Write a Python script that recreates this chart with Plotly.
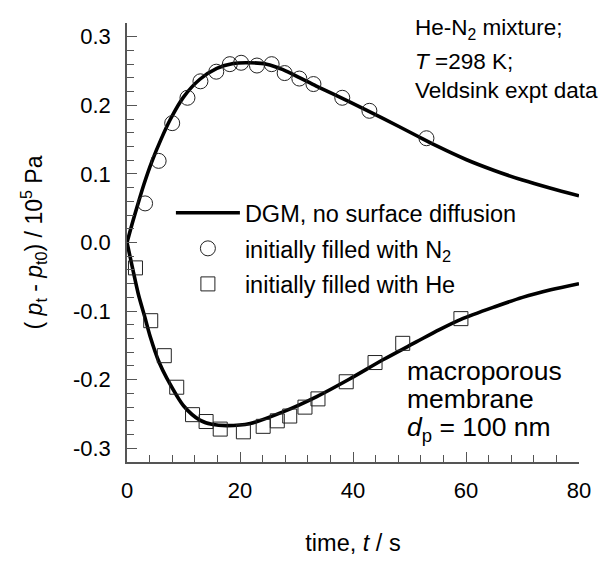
import plotly.graph_objects as go

# --- experimental data (Veldsink) ---
t_n2 = [3.2, 5.6, 8.0, 10.7, 13.0, 15.8, 18.2, 20.2, 23.0, 25.6, 27.9, 30.5, 33.0, 38.1, 42.9, 53.0]
p_n2 = [0.057, 0.119, 0.174, 0.211, 0.235, 0.249, 0.260, 0.262, 0.258, 0.260, 0.247, 0.239, 0.231, 0.211, 0.192, 0.152]

t_he = [1.5, 4.2, 6.6, 8.8, 11.6, 14.0, 16.5, 20.6, 24.1, 26.6, 28.8, 31.5, 33.8, 38.8, 43.9, 48.8, 59.1]
p_he = [-0.037, -0.114, -0.165, -0.211, -0.251, -0.261, -0.272, -0.276, -0.268, -0.260, -0.253, -0.240, -0.228,
        -0.203, -0.175, -0.147, -0.111]

# --- DGM model curves ---
t_dgm_n2 = [0, 1, 2, 3, 4.4, 6, 7.7, 10, 12.9, 15.9, 18.8, 21.8, 24.7, 27.6, 30.6, 33.5, 39.4, 45.3, 51.2,
            55, 60, 65, 70, 75, 80]
p_dgm_n2 = [0, 0.030, 0.058, 0.085, 0.118, 0.150, 0.180, 0.212, 0.238, 0.254, 0.261, 0.262, 0.260, 0.252, 0.240,
            0.228, 0.205, 0.181, 0.156, 0.140, 0.121, 0.105, 0.091, 0.079, 0.068]

t_dgm_he = [0, 1, 2, 3.2, 4.1, 5.7, 7.06, 10, 12.9, 15, 17.6, 21.8, 27.6, 33.5, 39.4, 45.3, 51.2, 55.3, 59.1,
            65, 70, 75, 80]
p_dgm_he = [0, -0.038, -0.075, -0.110, -0.137, -0.175, -0.198, -0.238, -0.259, -0.265, -0.267, -0.264, -0.247,
            -0.225, -0.199, -0.171, -0.145, -0.127, -0.112, -0.094, -0.080, -0.069, -0.060]

# --- tick labels ---
y_tick_vals = [-0.3, -0.2, -0.1, 0.0, 0.1, 0.2, 0.3]
y_tick_text = ["-0.3", "-0.2", "-0.1", "0.0", "0.1", "0.2", "0.3"]
x_tick_vals = [0, 20, 40, 60, 80]
x_tick_text = ["0", "20", "40", "60", "80"]

FONT = "Liberation Sans, Arial, sans-serif"
AX = "#555555"

fig = go.Figure()

fig.add_trace(go.Scatter(
    x=t_dgm_n2, y=p_dgm_n2, mode="lines", line=dict(color="black", width=3.6, shape="spline", smoothing=0.8),
    name="DGM, no surface diffusion", legendrank=1, legendgroup="a"))
fig.add_trace(go.Scatter(
    x=t_dgm_he, y=p_dgm_he, mode="lines", line=dict(color="black", width=3.6, shape="spline", smoothing=0.8),
    showlegend=False, legendgroup="a"))
fig.add_trace(go.Scatter(
    x=t_n2, y=p_n2, mode="markers",
    marker=dict(symbol="circle-open", size=15, color="#222222", line=dict(width=1, color="#222222")),
    name="initially filled with N<sub>2</sub>", legendrank=2, legendgroup="b"))
fig.add_trace(go.Scatter(
    x=t_he, y=p_he, mode="markers",
    marker=dict(symbol="square-open", size=14, color="#222222", line=dict(width=1, color="#222222")),
    name="initially filled with He", legendrank=3, legendgroup="c"))

axis_common = dict(
    showline=True, linecolor=AX, linewidth=1.5, mirror=False,
    ticks="inside", tickcolor=AX, tickwidth=1.2, ticklen=10,
    showgrid=False, zeroline=False,
    tickfont=dict(family=FONT, size=22, color="black"),
)

fig.update_xaxes(
    range=[0, 80], tickmode="array", tickvals=x_tick_vals, ticktext=x_tick_text,
    minor=dict(dtick=4, tick0=0, ticks="inside", ticklen=7, tickcolor=AX, tickwidth=1.2, showgrid=False),
    title=dict(text="time, <i>t</i> / s", font=dict(family=FONT, size=23.5, color="black"), standoff=32),
    ticklabelstandoff=8,
    **axis_common)
fig.update_yaxes(
    range=[-0.32, 0.32], tickmode="array", tickvals=y_tick_vals, ticktext=y_tick_text,
    minor=dict(dtick=0.02, tick0=0, ticks="inside", ticklen=7, tickcolor=AX, tickwidth=1.2, showgrid=False),
    title=dict(text="( <i>p</i><sub>t</sub> - <i>p</i><sub>t0</sub>) / 10<sup>5</sup> Pa",
               font=dict(family=FONT, size=23, color="black"), standoff=24),
    ticklabelstandoff=10,
    **axis_common)

annotations = [
    ("He-N<sub>2</sub> mixture;", 414, 29, 22.5),
    ("<i>T</i> =298 K;", 414, 63, 22.5),
    ("Veldsink expt data", 414, 92, 22.5),
    ("macroporous", 406, 381, 26.5),
    ("membrane", 406, 410, 26.5),
    ("<i>d</i><sub>p</sub> = 100 nm", 406, 441, 26.5),
]
W, H = 603, 564
L, R, T, B = 127, 23, 23, 89
pw, ph = W - L - R, H - T - B
for text, px, py, fs in annotations:
    fig.add_annotation(
        text=text, xref="paper", yref="paper",
        x=(px - L) / pw, y=1 - (py - T) / ph,
        xanchor="left", yanchor="middle", showarrow=False,
        font=dict(family=FONT, size=fs, color="black"), align="left")

fig.update_layout(
    width=W, height=H,
    margin=dict(l=L, r=R, t=T, b=B),
    paper_bgcolor="white", plot_bgcolor="white",
    font=dict(family=FONT, size=22, color="black"),
    showlegend=True,
    legend=dict(
        x=(171 - L) / pw, y=1 - (196 - T) / ph, xanchor="left", yanchor="top",
        bgcolor="rgba(0,0,0,0)", borderwidth=0,
        font=dict(family=FONT, size=23.5, color="black"),
        itemwidth=64, traceorder="grouped", tracegroupgap=2,
    ),
)

fig.write_html("out.html")
